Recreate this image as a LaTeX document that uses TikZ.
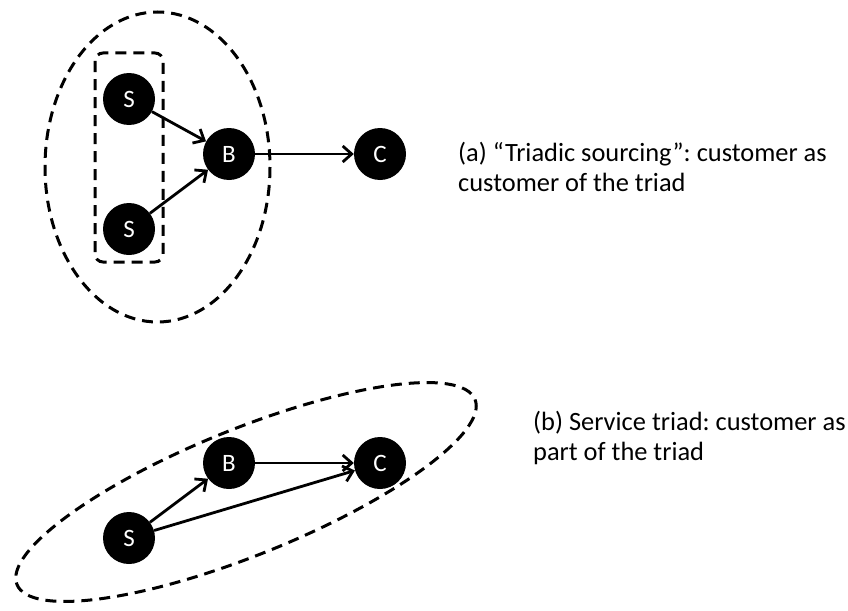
\documentclass[tikz,border=0pt]{standalone}
\usepackage{fontspec}
\setmainfont{Carlito}
\usetikzlibrary{arrows.meta}
\begin{document}
\frenchspacing
\begin{tikzpicture}[x=1pt,y=-1pt,
  actor/.style={circle,fill=black,minimum size=52pt,inner sep=0pt,text=white,font=\fontsize{25}{25}\selectfont},
  link/.style={line width=2.8pt,-{Straight Barb[length=9pt,width=16pt,line width=2.8pt]}},
  grp/.style={line width=3pt,dash pattern=on 11pt off 7pt},
  caption/.style={anchor=west,align=left,inner sep=0pt,font=\fontsize{26.4}{30}\selectfont}]
\useasboundingbox (0,0) rectangle (848,610);
% top diagram
\node[actor] (s1) at (129,99) {S};
\node[actor] (s2) at (129,229) {S};
\node[actor] (b1) at (229,154) {B};
\node[actor] (c1) at (380,154) {C};
\draw[grp,rounded corners=8pt] (95,53) rectangle (163,262);
\draw[grp] (157.5,167) ellipse [x radius=112.5, y radius=155];
\draw[link] (s1) -- (b1);
\draw[link] (s2) -- (b1);
\draw[link] (b1) -- (c1);
\node[caption] (ta) at (458,167) {(a) “Triadic sourcing”: customer as\\customer of the triad};
% bottom diagram
\node[actor] (s3) at (129,538) {S};
\node[actor] (b2) at (229,463) {B};
\node[actor] (c2) at (380,463) {C};
\draw[grp,rotate around={22:(246,492)}] (246,492) ellipse [x radius=247, y radius=63];
\draw[link] (s3) -- (b2);
\draw[link] (s3) -- (c2);
\draw[link] (b2) -- (c2);
\node[caption] (tb) at (533,438) {(b) Service triad: customer as\\part of the triad};
\end{tikzpicture}
\end{document}
